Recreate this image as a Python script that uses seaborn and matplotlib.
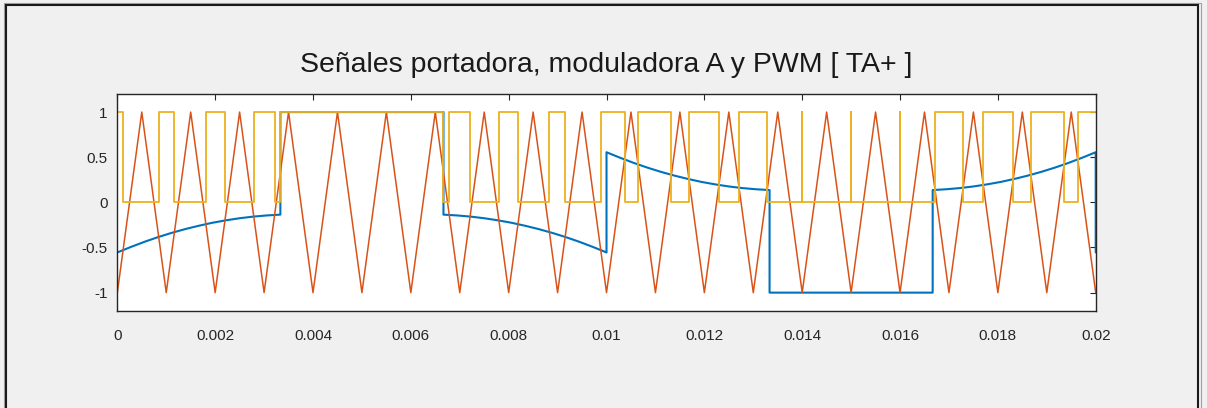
import numpy as np
import pandas as pd
import matplotlib
matplotlib.use("Agg")
import matplotlib.pyplot as plt
import seaborn as sns
from matplotlib.patches import Rectangle

# ---------------- datos ----------------
# limites de los 6 sectores (1/300 s cada uno)
sector_bounds = [0.0, 0.003333, 0.006667, 0.01, 0.013333, 0.016667, 0.02]

# moduladora A en cada sector
a_s1 = [-0.555, -0.494, -0.437, -0.385, -0.338, -0.296, -0.259, -0.226, -0.199, -0.176, -0.158, -0.145, -0.136]
a_s2 = [1.0, 1.0]
a_s3 = [-0.136, -0.145, -0.158, -0.176, -0.199, -0.226, -0.259, -0.296, -0.338, -0.385, -0.437, -0.494, -0.555]
a_s4 = [0.555, 0.494, 0.437, 0.385, 0.338, 0.296, 0.259, 0.226, 0.199, 0.176, 0.158, 0.145, 0.136]
a_s5 = [-1.0, -1.0]
a_s6 = [0.136, 0.145, 0.158, 0.176, 0.199, 0.226, 0.259, 0.296, 0.338, 0.385, 0.437, 0.494, 0.555]
a_end = -0.555

# portadora triangular (vertices cada 0.5 ms)
carrier_t = [k * 0.0005 for k in range(41)]
carrier_v = [-1, 1] * 20 + [-1]

# PWM: empieza en 0, sube a 1 en t=0 y conmuta en cada instante de la lista
pwm_start = [0, 1]
pwm_edges = [0.000118, 0.000846, 0.001168, 0.00181, 0.0022, 0.002789, 0.003215, 0.003333,
             0.006667, 0.006785, 0.007211, 0.0078, 0.00819, 0.008832, 0.009154, 0.009882,
             0.010369, 0.010645, 0.011326, 0.011686, 0.012298, 0.012709, 0.013285,
             0.014, 0.014, 0.015, 0.015, 0.016, 0.016,
             0.016715, 0.01729, 0.017702, 0.018314, 0.018674, 0.019355, 0.019631]

xtick_vals = [0, 0.002, 0.004, 0.006, 0.008, 0.01, 0.012, 0.014, 0.016, 0.018, 0.02]
xtick_labels = ['0', '0.002', '0.004', '0.006', '0.008', '0.01', '0.012', '0.014', '0.016', '0.018', '0.02']
ytick_vals = [-1, -0.5, 0, 0.5, 1]
ytick_labels = ['-1', '-0.5', '0', '0.5', '1']

# ---------------- armar series ----------------
segs = [a_s1, a_s2, a_s3, a_s4, a_s5, a_s6]
t_a, v_a = [], []
for i, vals in enumerate(segs):
    t_a += list(np.linspace(sector_bounds[i], sector_bounds[i + 1], len(vals)))
    v_a += vals
t_a.append(sector_bounds[-1])
v_a.append(a_end)
df_a = pd.DataFrame({'t': t_a, 'v': v_a})

df_c = pd.DataFrame({'t': carrier_t, 'v': carrier_v})

t_p, v_p = [0.0, 0.0], list(pwm_start)
level = pwm_start[-1]
for e in pwm_edges:
    t_p += [e, e]
    v_p += [level, 1 - level]
    level = 1 - level
t_p.append(sector_bounds[-1])
v_p.append(level)
df_p = pd.DataFrame({'t': t_p, 'v': v_p})

# ---------------- figura ----------------
sns.set_theme(style="white")
plt.rcParams['font.family'] = ['Liberation Sans', 'DejaVu Sans']

fig = plt.figure(figsize=(12.07, 4.08), dpi=100, facecolor='#f0f0f0')
ax = fig.add_axes([0.0972, 0.2385, 0.8106, 0.5311])
ax.set_facecolor('white')

sns.lineplot(data=df_a, x='t', y='v', sort=False, estimator=None, color='#0072BD', lw=1.5, ax=ax)
sns.lineplot(data=df_c, x='t', y='v', sort=False, estimator=None, color='#D95319', lw=1.1, ax=ax)
sns.lineplot(data=df_p, x='t', y='v', sort=False, estimator=None, color='#EDB120', lw=1.3, ax=ax)

ax.set_xlim(0, 0.02)
ax.set_ylim(-1.2, 1.2)
ax.set_xticks(xtick_vals)
ax.set_xticklabels(xtick_labels)
ax.set_yticks(ytick_vals)
ax.set_yticklabels(ytick_labels)
ax.set_xlabel('')
ax.set_ylabel('')
ax.tick_params(direction='in', top=True, right=True, length=4, width=0.8,
               colors='#262626', labelsize=11)
ax.tick_params(axis='x', pad=13)
ax.tick_params(axis='y', pad=7)
for s in ax.spines.values():
    s.set_color('#262626')
    s.set_linewidth(1.0)

ax.set_title('Señales portadora, moduladora A y PWM [ TA+ ]', fontsize=20.5,
             color='#1a1a1a', pad=16)

# marco de la ventana
fig.add_artist(Rectangle((3.5 / 1207, -0.1), 1197 / 1207, 1.1 - 3.5 / 408,
                         transform=fig.transFigure, fill=False, ec='#a0a0a0', lw=0.8))
fig.add_artist(Rectangle((5.5 / 1207, -0.1), 1192.5 / 1207, 1.1 - 5.5 / 408,
                         transform=fig.transFigure, fill=False, ec='#1a1a1a', lw=1.5))

fig.savefig('out.png', dpi=100, facecolor=fig.get_facecolor())
